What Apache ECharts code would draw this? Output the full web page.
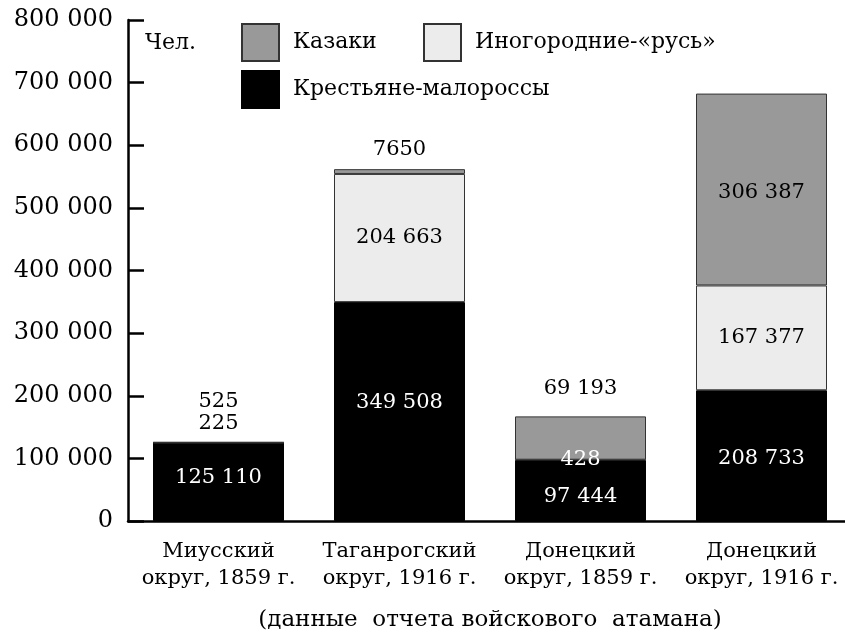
<!DOCTYPE html>
<html>
<head>
<meta charset="utf-8">
<script src="https://cdn.jsdelivr.net/npm/echarts@6/dist/echarts.min.js"></script>
<style>
  html, body { margin: 0; padding: 0; background: #fff; }
  #chart { width: 845px; height: 637px; }
</style>
</head>
<body>
<div id="chart"></div>
<script>
// categories and series values
var categories = ['Миусский\nокруг, 1859 г.', 'Таганрогский\nокруг, 1916 г.', 'Донецкий\nокруг, 1859 г.', 'Донецкий\nокруг, 1916 г.'];
var krestyane = [125110, 349508, 97444, 208733];
var inogorodnie = [225, 204663, 428, 167377];
var kazaki = [525, 7650, 69193, 306387];
var yTicks = [0, 100000, 200000, 300000, 400000, 500000, 600000, 700000, 800000];

var SERIF = '"DejaVu Serif", "Liberation Serif", serif';

/*
 * число с пробелом между разрядами (четырёхзначные без пробела)
 */
var fmt = function(v) {
	if (v < 10000) {
		return String(v);
	}
	return String(v).replace(/\B(?=(\d{3})+(?!\d))/g, ' ');
};

/*
 * подписи для каждого столбца (только оформление)
 */
var krLabel = [
	{offset: [0, -4]}, {offset: [0, -9]}, {offset: [0, 6]}, {offset: [0, 3]}
];
var inLabel = [
	{position: 'top', distance: 8, color: '#000'},
	{position: 'inside', color: '#000'},
	{position: 'inside', color: '#fff'},
	{position: 'inside', color: '#000'}
];
var kaLabel = [
	{position: 'top', distance: 30, color: '#000'},
	{position: 'top', distance: 9, color: '#000'},
	{position: 'top', distance: 17, color: '#000'},
	{position: 'inside', color: '#000', offset: [0, 3]}
];

var buildData = function(values, labels) {
	var arr = [];
	for (var n = 0; n < values.length; n++) {
		arr.push({value: values[n], label: labels[n]});
	}
	return arr;
};

var baseLabel = {
	show: true,
	fontFamily: SERIF,
	fontSize: 21,
	formatter: function(p) { return fmt(p.value); }
};

var legendText = { fontFamily: SERIF, fontSize: 22, color: '#000', padding: [0, 0, 0, 9] };
var makeLegend = function(name, left, top) {
	return {
		data: [name], left: left, top: top, padding: 0,
		itemWidth: 37, itemHeight: 37, icon: 'rect',
		textStyle: legendText
	};
};

var chart = echarts.init(document.getElementById('chart'));
var option = {
	backgroundColor: '#fff',
	animation: false,
	textStyle: { fontFamily: SERIF, color: '#000' },
	title: {
		text: '(данные  отчета войскового  атамана)',
		left: 490,
		textAlign: 'center',
		top: 609,
		padding: 0,
		textStyle: { fontFamily: SERIF, fontSize: 23, fontWeight: 'normal', color: '#000' }
	},
	legend: [
		makeLegend('Казаки', 241, 23),
		makeLegend('Иногородние-«русь»', 423, 23),
		makeLegend('Крестьяне-малороссы', 241, 70)
	],
	graphic: [{
		type: 'text', left: 145, top: 32,
		style: { text: 'Чел.', fontFamily: SERIF, fontSize: 22, fill: '#000' }
	}],
	grid: {
		left: 128, right: -7, top: 20, bottom: 116,
		containLabel: false, outerBoundsMode: 'none'
	},
	xAxis: {
		type: 'category',
		data: categories,
		axisLine: { lineStyle: { color: '#000', width: 2.5 } },
		axisTick: { inside: true, length: 13, lineStyle: { color: '#000', width: 2.5 } },
		axisLabel: {
			interval: 0, margin: 17, color: '#000',
			fontFamily: SERIF, fontSize: 21, lineHeight: 27
		}
	},
	yAxis: {
		type: 'value',
		min: yTicks[0], max: yTicks[yTicks.length - 1], interval: 100000,
		axisLine: { show: true, lineStyle: { color: '#000', width: 2.5 } },
		axisTick: { show: true, inside: true, length: 16, lineStyle: { color: '#000', width: 2.5 } },
		splitLine: { show: false },
		axisLabel: {
			margin: 15, color: '#000', fontFamily: SERIF, fontSize: 24,
			formatter: function(v) { return v === 0 ? '0' : fmt(v); }
		}
	},
	series: [
		{
			name: 'Крестьяне-малороссы', type: 'bar', stack: 'total',
			barWidth: 131,
			itemStyle: { color: '#000', borderColor: '#000', borderWidth: 1 },
			label: Object.assign({}, baseLabel, { position: 'inside', color: '#fff' }),
			data: buildData(krestyane, krLabel)
		},
		{
			name: 'Иногородние-«русь»', type: 'bar', stack: 'total',
			barWidth: 131,
			itemStyle: { color: '#ececec', borderColor: '#333', borderWidth: 1 },
			label: Object.assign({}, baseLabel),
			data: buildData(inogorodnie, inLabel)
		},
		{
			name: 'Казаки', type: 'bar', stack: 'total',
			barWidth: 131,
			itemStyle: { color: '#999', borderColor: '#333', borderWidth: 1 },
			label: Object.assign({}, baseLabel),
			data: buildData(kazaki, kaLabel)
		}
	]
};
chart.setOption(option);
</script>
</body>
</html>
